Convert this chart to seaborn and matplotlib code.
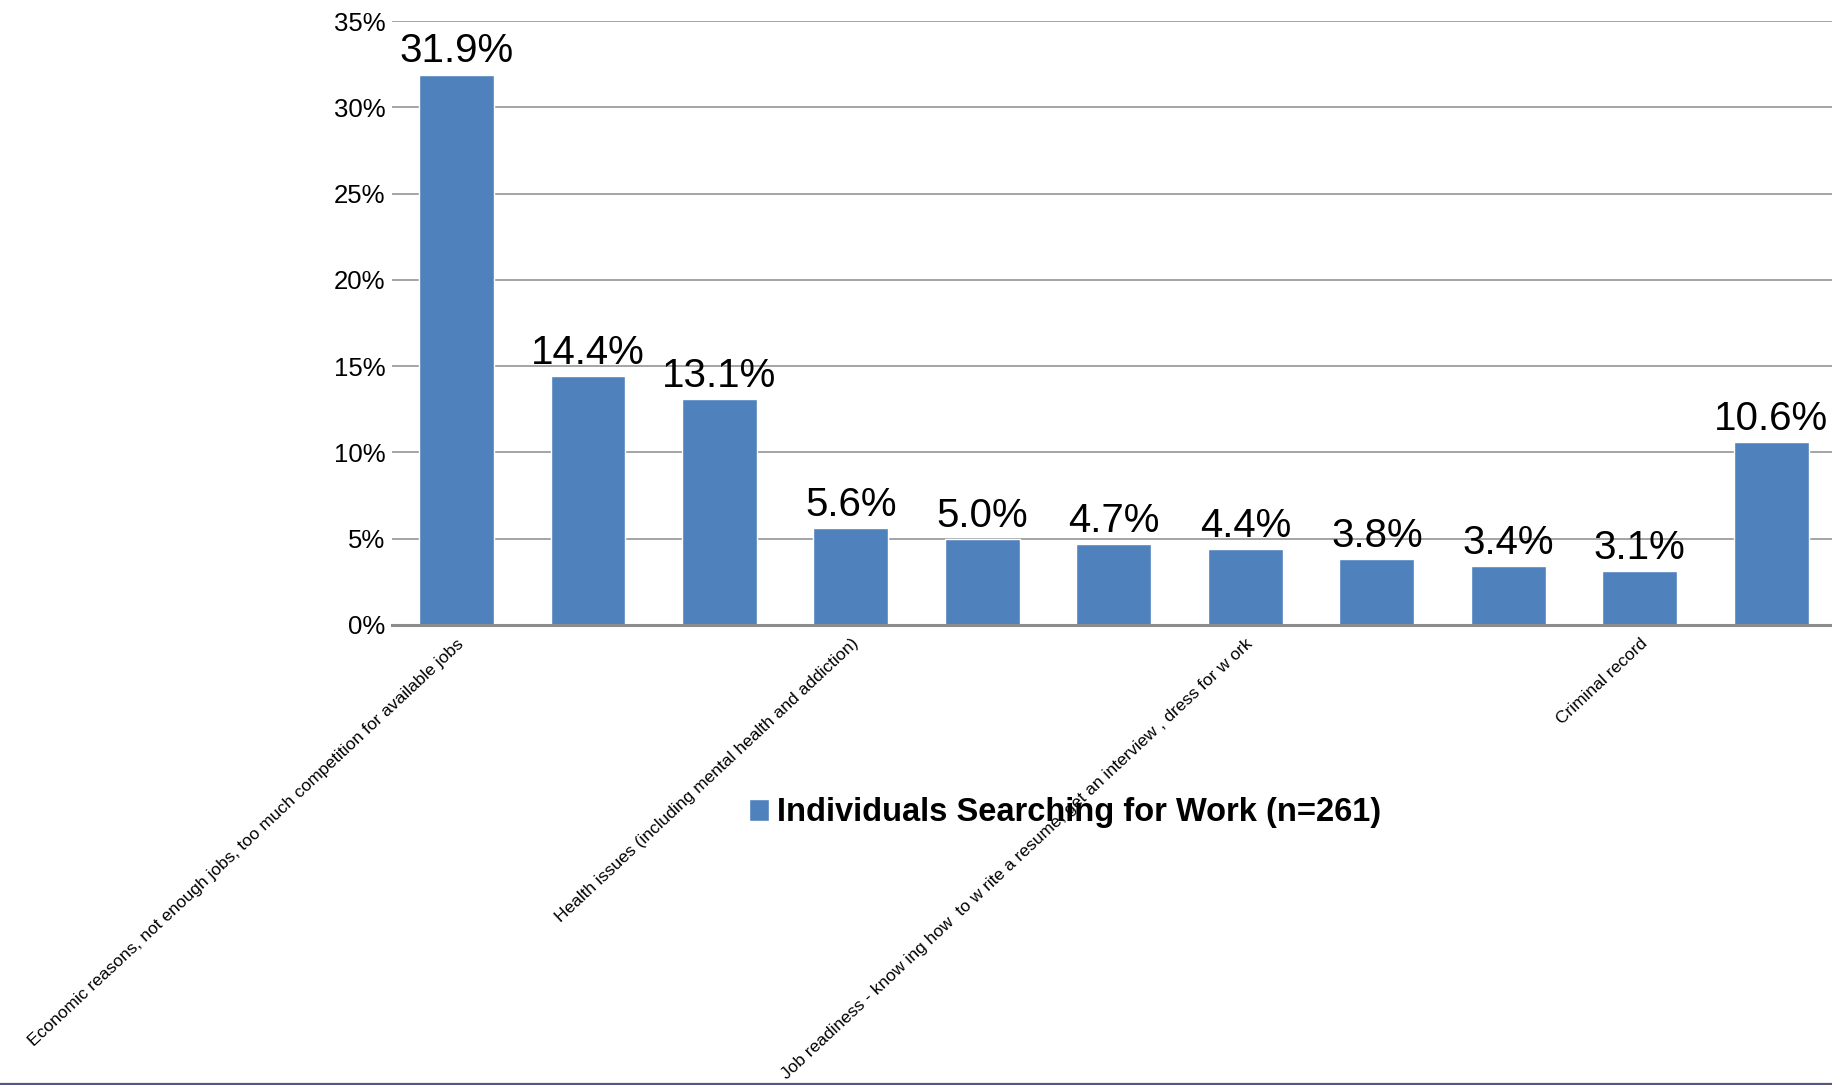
import matplotlib
matplotlib.use("Agg")
import matplotlib.pyplot as plt
from matplotlib.lines import Line2D
import seaborn as sns
import pandas as pd

# ---- data ----
categories = [
    "Economic reasons, not enough jobs, too much competition for available jobs",
    "Category 2",
    "Category 3",
    "Health issues (including mental health and addiction)",
    "Category 5",
    "Category 6",
    "Job readiness - know ing how  to w rite a resume, get an interview , dress for w ork",
    "Category 8",
    "Category 9",
    "Criminal record",
    "Category 11",
]
values = [31.9, 14.4, 13.1, 5.6, 5.0, 4.7, 4.4, 3.8, 3.4, 3.1, 10.6]
shown_tick_labels = [
    "Economic reasons, not enough jobs, too much competition for available jobs",
    "", "",
    "Health issues (including mental health and addiction)",
    "", "",
    "Job readiness - know ing how  to w rite a resume, get an interview , dress for w ork",
    "", "",
    "Criminal record",
    "",
]
y_ticks = [0, 5, 10, 15, 20, 25, 30, 35]
y_tick_labels = ["0%", "5%", "10%", "15%", "20%", "25%", "30%", "35%"]
series_name = "Individuals Searching for Work (n=261)"

df = pd.DataFrame({"category": categories, "value": values})

sns.set_theme(style="white")
plt.rcParams["font.family"] = ["Liberation Sans", "DejaVu Sans"]

fig = plt.figure(figsize=(18.33, 10.85), dpi=100)
ax = fig.add_axes([0.2139, 0.424, 0.7861, 0.5566])

bar_color = "#4f81bd"
sns.barplot(data=df, x="category", y="value", order=categories,
            color=bar_color, saturation=1, width=0.57, ax=ax,
            label=series_name, zorder=3)

ax.set_ylim(0, 35)
ax.set_xlim(-0.49, 10.47)
ax.set_yticks(y_ticks)
ax.set_yticklabels(y_tick_labels, fontsize=18.5, color="black")
ax.yaxis.grid(True, color="#8c8c8c", linewidth=1.1, zorder=0)
ax.set_axisbelow(True)
for s in ["top", "right", "left"]:
    ax.spines[s].set_visible(False)
ax.spines["bottom"].set_color("#8c8c8c")
ax.spines["bottom"].set_linewidth(2.2)
ax.spines["bottom"].set_zorder(4)
ax.tick_params(axis="y", length=0, pad=5)
ax.tick_params(axis="x", length=0, pad=8)
ax.set_xlabel("")
ax.set_ylabel("")

ax.set_xticks(range(len(categories)))
ax.set_xticklabels(shown_tick_labels, rotation=43, ha="right",
                   rotation_mode="anchor", fontsize=12.5, color="black")

ax.bar_label(ax.containers[0], labels=[f"{v:.1f}%" for v in values],
             padding=3, fontsize=29, color="black")

leg = ax.legend(loc="center", bbox_to_anchor=(0.581, 0.2507),
                bbox_transform=fig.transFigure, frameon=False,
                handlelength=0.62, handleheight=0.62, handletextpad=0.25,
                prop={"family": ["Liberation Sans Narrow", "Liberation Sans"],
                      "weight": "bold", "size": 23.5})
for t in leg.get_texts():
    t.set_color("black")

fig.add_artist(Line2D([0, 1], [0.0012, 0.0012], transform=fig.transFigure,
                      color="#55557f", linewidth=1.6))

fig.savefig("out.png", dpi=100, facecolor="white")
